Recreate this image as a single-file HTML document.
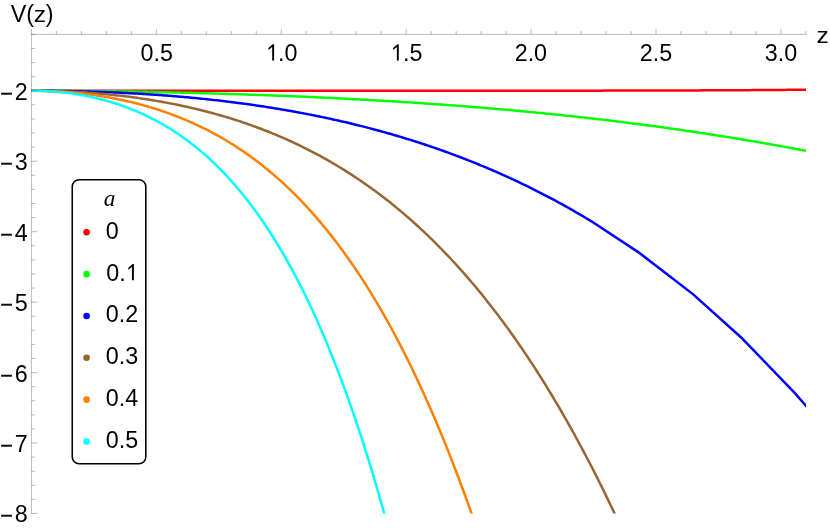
<!DOCTYPE html>
<html><head><meta charset="utf-8"><title>V(z)</title>
<style>
html,body{margin:0;padding:0;background:#fff;}
body{width:830px;height:528px;overflow:hidden;position:relative;font-family:"Liberation Sans",sans-serif;}
</style></head><body>
<svg width="830" height="528" viewBox="0 0 830 528" style="position:absolute;left:0;top:0;will-change:transform">
<rect width="830" height="528" fill="#fff"/>
<clipPath id="pc"><rect x="0" y="0" width="806" height="513.5"/></clipPath>
<g clip-path="url(#pc)">
<path d="M31.40 90.75 L33.35 90.75 L35.31 90.75 L37.26 90.75 L39.21 90.75 L41.17 90.75 L43.12 90.75 L45.08 90.75 L47.03 90.75 L48.98 90.75 L50.94 90.75 L52.89 90.75 L54.84 90.75 L56.80 90.75 L58.75 90.75 L60.70 90.75 L62.66 90.75 L64.61 90.75 L66.57 90.75 L68.52 90.75 L70.47 90.75 L72.43 90.75 L74.38 90.75 L76.33 90.75 L78.29 90.75 L80.24 90.75 L82.19 90.75 L84.15 90.75 L86.10 90.75 L88.06 90.75 L90.01 90.75 L91.96 90.75 L93.92 90.75 L95.87 90.75 L97.82 90.75 L99.78 90.75 L101.73 90.75 L103.68 90.75 L105.64 90.75 L107.59 90.75 L109.55 90.75 L111.50 90.75 L113.45 90.75 L115.41 90.75 L117.36 90.75 L119.31 90.75 L121.27 90.75 L123.22 90.75 L125.17 90.75 L127.13 90.75 L129.08 90.75 L131.04 90.75 L132.99 90.75 L134.94 90.75 L136.90 90.75 L138.85 90.75 L140.80 90.75 L142.76 90.75 L144.71 90.75 L146.66 90.75 L148.62 90.75 L150.57 90.75 L152.53 90.75 L154.48 90.75 L156.43 90.75 L158.39 90.75 L160.34 90.75 L162.29 90.75 L164.25 90.75 L166.20 90.75 L168.15 90.75 L170.11 90.75 L172.06 90.75 L174.02 90.75 L175.97 90.75 L177.92 90.75 L179.88 90.75 L181.83 90.75 L183.78 90.75 L185.74 90.75 L187.69 90.75 L189.64 90.75 L191.60 90.75 L193.55 90.75 L195.51 90.75 L197.46 90.75 L199.41 90.75 L201.37 90.75 L203.32 90.75 L205.27 90.75 L207.23 90.75 L209.18 90.75 L211.13 90.75 L213.09 90.75 L215.04 90.75 L217.00 90.75 L218.95 90.75 L220.90 90.75 L222.86 90.75 L224.81 90.75 L226.76 90.75 L228.72 90.75 L230.67 90.75 L232.62 90.75 L234.58 90.75 L236.53 90.75 L238.49 90.75 L240.44 90.75 L242.39 90.75 L244.35 90.75 L246.30 90.75 L248.25 90.75 L250.21 90.75 L252.16 90.75 L254.11 90.75 L256.07 90.75 L258.02 90.75 L259.98 90.75 L261.93 90.75 L263.88 90.75 L265.84 90.75 L267.79 90.75 L269.74 90.75 L271.70 90.75 L273.65 90.75 L275.60 90.75 L277.56 90.75 L279.51 90.75 L281.47 90.75 L283.42 90.75 L285.37 90.75 L287.33 90.75 L289.28 90.75 L291.23 90.75 L293.19 90.75 L295.14 90.75 L297.09 90.75 L299.05 90.75 L301.00 90.75 L302.96 90.75 L304.91 90.75 L306.86 90.75 L308.82 90.75 L310.77 90.75 L312.72 90.75 L314.68 90.75 L316.63 90.75 L318.58 90.75 L320.54 90.75 L322.49 90.75 L324.45 90.75 L326.40 90.75 L328.35 90.75 L330.31 90.75 L332.26 90.75 L334.21 90.75 L336.17 90.75 L338.12 90.75 L340.07 90.75 L342.03 90.75 L343.98 90.75 L345.94 90.75 L347.89 90.75 L349.84 90.75 L351.80 90.75 L353.75 90.75 L355.70 90.75 L357.66 90.75 L359.61 90.75 L361.56 90.75 L363.52 90.75 L365.47 90.75 L367.43 90.75 L369.38 90.75 L371.33 90.75 L373.29 90.75 L375.24 90.75 L377.19 90.75 L379.15 90.75 L381.10 90.75 L383.05 90.75 L385.01 90.75 L386.96 90.75 L388.92 90.75 L390.87 90.75 L392.82 90.74 L394.78 90.74 L396.73 90.74 L398.68 90.74 L400.64 90.74 L402.59 90.74 L404.54 90.74 L406.50 90.74 L408.45 90.74 L410.41 90.74 L412.36 90.74 L414.31 90.74 L416.27 90.74 L418.22 90.74 L420.17 90.74 L422.13 90.74 L424.08 90.74 L426.03 90.74 L427.99 90.74 L429.94 90.74 L431.90 90.74 L433.85 90.74 L435.80 90.74 L437.76 90.74 L439.71 90.74 L441.66 90.74 L443.62 90.74 L445.57 90.74 L447.52 90.74 L449.48 90.74 L451.43 90.74 L453.39 90.74 L455.34 90.73 L457.29 90.73 L459.25 90.73 L461.20 90.73 L463.15 90.73 L465.11 90.73 L467.06 90.73 L469.01 90.73 L470.97 90.73 L472.92 90.73 L474.88 90.73 L476.83 90.73 L478.78 90.73 L480.74 90.73 L482.69 90.73 L484.64 90.73 L486.60 90.72 L488.55 90.72 L490.50 90.72 L492.46 90.72 L494.41 90.72 L496.37 90.72 L498.32 90.72 L500.27 90.72 L502.23 90.72 L504.18 90.72 L506.13 90.72 L508.09 90.71 L510.04 90.71 L511.99 90.71 L513.95 90.71 L515.90 90.71 L517.86 90.71 L519.81 90.71 L521.76 90.71 L523.72 90.71 L525.67 90.70 L527.62 90.70 L529.58 90.70 L531.53 90.70 L533.48 90.70 L535.44 90.70 L537.39 90.70 L539.35 90.70 L541.30 90.69 L543.25 90.69 L545.21 90.69 L547.16 90.69 L549.11 90.69 L551.07 90.69 L553.02 90.68 L554.97 90.68 L556.93 90.68 L558.88 90.68 L560.84 90.68 L562.79 90.67 L564.74 90.67 L566.70 90.67 L568.65 90.67 L570.60 90.67 L572.56 90.66 L574.51 90.66 L576.46 90.66 L578.42 90.66 L580.37 90.66 L582.33 90.65 L584.28 90.65 L586.23 90.65 L588.19 90.65 L590.14 90.64 L592.09 90.64 L594.05 90.64 L596.00 90.64 L597.95 90.63 L599.91 90.63 L601.86 90.63 L603.82 90.62 L605.77 90.62 L607.72 90.62 L609.68 90.61 L611.63 90.61 L613.58 90.61 L615.54 90.60 L617.49 90.60 L619.44 90.60 L621.40 90.59 L623.35 90.59 L625.31 90.59 L627.26 90.58 L629.21 90.58 L631.17 90.57 L633.12 90.57 L635.07 90.57 L637.03 90.56 L638.98 90.56 L640.93 90.55 L642.89 90.55 L644.84 90.54 L646.80 90.54 L648.75 90.54 L650.70 90.53 L652.66 90.53 L654.61 90.52 L656.56 90.52 L658.52 90.51 L660.47 90.51 L662.42 90.50 L664.38 90.49 L666.33 90.49 L668.29 90.48 L670.24 90.48 L672.19 90.47 L674.15 90.47 L676.10 90.46 L678.05 90.45 L680.01 90.45 L681.96 90.44 L683.91 90.43 L685.87 90.43 L687.82 90.42 L689.78 90.41 L691.73 90.41 L693.68 90.40 L695.64 90.39 L697.59 90.38 L699.54 90.38 L701.50 90.37 L703.45 90.36 L705.40 90.35 L707.36 90.34 L709.31 90.34 L711.27 90.33 L713.22 90.32 L715.17 90.31 L717.13 90.30 L719.08 90.29 L721.03 90.28 L722.99 90.27 L724.94 90.27 L726.89 90.26 L728.85 90.25 L730.80 90.24 L732.76 90.23 L734.71 90.22 L736.66 90.20 L738.62 90.19 L740.57 90.18 L742.52 90.17 L744.48 90.16 L746.43 90.15 L748.38 90.14 L750.34 90.13 L752.29 90.11 L754.25 90.10 L756.20 90.09 L758.15 90.08 L760.11 90.06 L762.06 90.05 L764.01 90.04 L765.97 90.03 L767.92 90.01 L769.87 90.00 L771.83 89.98 L773.78 89.97 L775.74 89.95 L777.69 89.94 L779.64 89.93 L781.60 89.91 L783.55 89.89 L785.50 89.88 L787.46 89.86 L789.41 89.85 L791.36 89.83 L793.32 89.81 L795.27 89.80 L797.23 89.78 L799.18 89.76 L801.13 89.74 L803.09 89.73 L805.04 89.71 L806.99 89.69 L808.95 89.67 L810.90 89.65" fill="none" stroke="#ff0000" stroke-width="2.5" stroke-linejoin="round"/>
<path d="M31.40 90.75 L33.35 90.75 L35.31 90.75 L37.26 90.75 L39.21 90.76 L41.17 90.76 L43.12 90.76 L45.08 90.77 L47.03 90.77 L48.98 90.78 L50.94 90.78 L52.89 90.79 L54.84 90.80 L56.80 90.81 L58.75 90.82 L60.70 90.83 L62.66 90.84 L64.61 90.85 L66.57 90.86 L68.52 90.87 L70.47 90.89 L72.43 90.90 L74.38 90.92 L76.33 90.93 L78.29 90.95 L80.24 90.96 L82.19 90.98 L84.15 91.00 L86.10 91.01 L88.06 91.03 L90.01 91.05 L91.96 91.07 L93.92 91.09 L95.87 91.11 L97.82 91.14 L99.78 91.16 L101.73 91.18 L103.68 91.21 L105.64 91.23 L107.59 91.25 L109.55 91.28 L111.50 91.31 L113.45 91.33 L115.41 91.36 L117.36 91.39 L119.31 91.42 L121.27 91.45 L123.22 91.47 L125.17 91.51 L127.13 91.54 L129.08 91.57 L131.04 91.60 L132.99 91.63 L134.94 91.66 L136.90 91.70 L138.85 91.73 L140.80 91.77 L142.76 91.80 L144.71 91.84 L146.66 91.87 L148.62 91.91 L150.57 91.95 L152.53 91.99 L154.48 92.03 L156.43 92.07 L158.39 92.11 L160.34 92.15 L162.29 92.19 L164.25 92.23 L166.20 92.27 L168.15 92.31 L170.11 92.36 L172.06 92.40 L174.02 92.45 L175.97 92.49 L177.92 92.54 L179.88 92.58 L181.83 92.63 L183.78 92.68 L185.74 92.72 L187.69 92.77 L189.64 92.82 L191.60 92.87 L193.55 92.92 L195.51 92.97 L197.46 93.02 L199.41 93.08 L201.37 93.13 L203.32 93.18 L205.27 93.23 L207.23 93.29 L209.18 93.34 L211.13 93.40 L213.09 93.46 L215.04 93.51 L217.00 93.57 L218.95 93.63 L220.90 93.68 L222.86 93.74 L224.81 93.80 L226.76 93.86 L228.72 93.92 L230.67 93.99 L232.62 94.05 L234.58 94.11 L236.53 94.17 L238.49 94.24 L240.44 94.30 L242.39 94.37 L244.35 94.43 L246.30 94.50 L248.25 94.56 L250.21 94.63 L252.16 94.70 L254.11 94.77 L256.07 94.84 L258.02 94.91 L259.98 94.98 L261.93 95.05 L263.88 95.12 L265.84 95.19 L267.79 95.26 L269.74 95.34 L271.70 95.41 L273.65 95.49 L275.60 95.56 L277.56 95.64 L279.51 95.71 L281.47 95.79 L283.42 95.87 L285.37 95.95 L287.33 96.03 L289.28 96.11 L291.23 96.19 L293.19 96.27 L295.14 96.35 L297.09 96.43 L299.05 96.52 L301.00 96.60 L302.96 96.68 L304.91 96.77 L306.86 96.86 L308.82 96.94 L310.77 97.03 L312.72 97.12 L314.68 97.21 L316.63 97.30 L318.58 97.39 L320.54 97.48 L322.49 97.57 L324.45 97.66 L326.40 97.75 L328.35 97.85 L330.31 97.94 L332.26 98.03 L334.21 98.13 L336.17 98.23 L338.12 98.32 L340.07 98.42 L342.03 98.52 L343.98 98.62 L345.94 98.72 L347.89 98.82 L349.84 98.92 L351.80 99.02 L353.75 99.13 L355.70 99.23 L357.66 99.34 L359.61 99.44 L361.56 99.55 L363.52 99.65 L365.47 99.76 L367.43 99.87 L369.38 99.98 L371.33 100.09 L373.29 100.20 L375.24 100.31 L377.19 100.42 L379.15 100.54 L381.10 100.65 L383.05 100.76 L385.01 100.88 L386.96 101.00 L388.92 101.11 L390.87 101.23 L392.82 101.35 L394.78 101.47 L396.73 101.59 L398.68 101.71 L400.64 101.83 L402.59 101.96 L404.54 102.08 L406.50 102.20 L408.45 102.33 L410.41 102.46 L412.36 102.58 L414.31 102.71 L416.27 102.84 L418.22 102.97 L420.17 103.10 L422.13 103.23 L424.08 103.36 L426.03 103.50 L427.99 103.63 L429.94 103.77 L431.90 103.90 L433.85 104.04 L435.80 104.18 L437.76 104.32 L439.71 104.46 L441.66 104.60 L443.62 104.74 L445.57 104.88 L447.52 105.02 L449.48 105.17 L451.43 105.31 L453.39 105.46 L455.34 105.61 L457.29 105.75 L459.25 105.90 L461.20 106.05 L463.15 106.20 L465.11 106.35 L467.06 106.51 L469.01 106.66 L470.97 106.82 L472.92 106.97 L474.88 107.13 L476.83 107.29 L478.78 107.44 L480.74 107.60 L482.69 107.77 L484.64 107.93 L486.60 108.09 L488.55 108.25 L490.50 108.42 L492.46 108.58 L494.41 108.75 L496.37 108.92 L498.32 109.09 L500.27 109.26 L502.23 109.43 L504.18 109.60 L506.13 109.77 L508.09 109.95 L510.04 110.12 L511.99 110.30 L513.95 110.47 L515.90 110.65 L517.86 110.83 L519.81 111.01 L521.76 111.19 L523.72 111.38 L525.67 111.56 L527.62 111.75 L529.58 111.93 L531.53 112.12 L533.48 112.31 L535.44 112.50 L537.39 112.69 L539.35 112.88 L541.30 113.07 L543.25 113.26 L545.21 113.46 L547.16 113.65 L549.11 113.85 L551.07 114.05 L553.02 114.25 L554.97 114.45 L556.93 114.65 L558.88 114.85 L560.84 115.06 L562.79 115.26 L564.74 115.47 L566.70 115.67 L568.65 115.88 L570.60 116.09 L572.56 116.30 L574.51 116.52 L576.46 116.73 L578.42 116.94 L580.37 117.16 L582.33 117.38 L584.28 117.59 L586.23 117.81 L588.19 118.03 L590.14 118.25 L592.09 118.48 L594.05 118.70 L596.00 118.93 L597.95 119.15 L599.91 119.38 L601.86 119.61 L603.82 119.84 L605.77 120.07 L607.72 120.30 L609.68 120.54 L611.63 120.77 L613.58 121.01 L615.54 121.25 L617.49 121.49 L619.44 121.73 L621.40 121.97 L623.35 122.21 L625.31 122.45 L627.26 122.70 L629.21 122.95 L631.17 123.19 L633.12 123.44 L635.07 123.69 L637.03 123.94 L638.98 124.20 L640.93 124.45 L642.89 124.71 L644.84 124.96 L646.80 125.22 L648.75 125.48 L650.70 125.74 L652.66 126.00 L654.61 126.27 L656.56 126.53 L658.52 126.80 L660.47 127.06 L662.42 127.33 L664.38 127.60 L666.33 127.87 L668.29 128.15 L670.24 128.42 L672.19 128.69 L674.15 128.97 L676.10 129.25 L678.05 129.53 L680.01 129.81 L681.96 130.09 L683.91 130.37 L685.87 130.66 L687.82 130.94 L689.78 131.23 L691.73 131.52 L693.68 131.81 L695.64 132.10 L697.59 132.39 L699.54 132.69 L701.50 132.98 L703.45 133.28 L705.40 133.58 L707.36 133.88 L709.31 134.18 L711.27 134.48 L713.22 134.78 L715.17 135.09 L717.13 135.39 L719.08 135.70 L721.03 136.01 L722.99 136.32 L724.94 136.63 L726.89 136.95 L728.85 137.26 L730.80 137.58 L732.76 137.89 L734.71 138.21 L736.66 138.53 L738.62 138.85 L740.57 139.18 L742.52 139.50 L744.48 139.83 L746.43 140.15 L748.38 140.48 L750.34 140.81 L752.29 141.14 L754.25 141.48 L756.20 141.81 L758.15 142.14 L760.11 142.48 L762.06 142.82 L764.01 143.16 L765.97 143.50 L767.92 143.84 L769.87 144.19 L771.83 144.53 L773.78 144.88 L775.74 145.23 L777.69 145.57 L779.64 145.93 L781.60 146.28 L783.55 146.63 L785.50 146.99 L787.46 147.34 L789.41 147.70 L791.36 148.06 L793.32 148.42 L795.27 148.78 L797.23 149.15 L799.18 149.51 L801.13 149.88 L803.09 150.24 L805.04 150.61 L806.99 150.98 L808.95 151.35 L810.90 151.73" fill="none" stroke="#00ff00" stroke-width="2.5" stroke-linejoin="round"/>
<path d="M31.40 90.75 L33.35 90.75 L35.31 90.75 L37.26 90.76 L39.21 90.76 L41.17 90.77 L43.12 90.78 L45.08 90.79 L47.03 90.81 L48.98 90.82 L50.94 90.84 L52.89 90.86 L54.84 90.88 L56.80 90.90 L58.75 90.93 L60.70 90.95 L62.66 90.98 L64.61 91.01 L66.57 91.05 L68.52 91.08 L70.47 91.12 L72.43 91.15 L74.38 91.20 L76.33 91.24 L78.29 91.28 L80.24 91.33 L82.19 91.38 L84.15 91.43 L86.10 91.48 L88.06 91.53 L90.01 91.59 L91.96 91.65 L93.92 91.71 L95.87 91.77 L97.82 91.84 L99.78 91.91 L101.73 91.98 L103.68 92.05 L105.64 92.12 L107.59 92.20 L109.55 92.27 L111.50 92.35 L113.45 92.44 L115.41 92.52 L117.36 92.61 L119.31 92.70 L121.27 92.79 L123.22 92.88 L125.17 92.98 L127.13 93.08 L129.08 93.18 L131.04 93.28 L132.99 93.39 L134.94 93.50 L136.90 93.61 L138.85 93.72 L140.80 93.83 L142.76 93.95 L144.71 94.07 L146.66 94.19 L148.62 94.32 L150.57 94.45 L152.53 94.58 L154.48 94.71 L156.43 94.84 L158.39 94.98 L160.34 95.12 L162.29 95.26 L164.25 95.41 L166.20 95.55 L168.15 95.71 L170.11 95.86 L172.06 96.01 L174.02 96.17 L175.97 96.33 L177.92 96.50 L179.88 96.66 L181.83 96.83 L183.78 97.00 L185.74 97.18 L187.69 97.35 L189.64 97.53 L191.60 97.72 L193.55 97.90 L195.51 98.09 L197.46 98.28 L199.41 98.47 L201.37 98.67 L203.32 98.87 L205.27 99.07 L207.23 99.28 L209.18 99.49 L211.13 99.70 L213.09 99.91 L215.04 100.13 L217.00 100.35 L218.95 100.57 L220.90 100.80 L222.86 101.03 L224.81 101.26 L226.76 101.50 L228.72 101.73 L230.67 101.97 L232.62 102.22 L234.58 102.47 L236.53 102.72 L238.49 102.97 L240.44 103.23 L242.39 103.49 L244.35 103.75 L246.30 104.02 L248.25 104.29 L250.21 104.56 L252.16 104.84 L254.11 105.12 L256.07 105.40 L258.02 105.69 L259.98 105.98 L261.93 106.27 L263.88 106.57 L265.84 106.87 L267.79 107.17 L269.74 107.48 L271.70 107.79 L273.65 108.11 L275.60 108.42 L277.56 108.74 L279.51 109.07 L281.47 109.40 L283.42 109.73 L285.37 110.06 L287.33 110.40 L289.28 110.74 L291.23 111.09 L293.19 111.44 L295.14 111.79 L297.09 112.15 L299.05 112.51 L301.00 112.88 L302.96 113.25 L304.91 113.62 L306.86 113.99 L308.82 114.37 L310.77 114.76 L312.72 115.14 L314.68 115.54 L316.63 115.93 L318.58 116.33 L320.54 116.73 L322.49 117.14 L324.45 117.55 L326.40 117.97 L328.35 118.39 L330.31 118.81 L332.26 119.24 L334.21 119.67 L336.17 120.10 L338.12 120.54 L340.07 120.99 L342.03 121.44 L343.98 121.89 L345.94 122.34 L347.89 122.80 L349.84 123.27 L351.80 123.74 L353.75 124.21 L355.70 124.69 L357.66 125.17 L359.61 125.66 L361.56 126.15 L363.52 126.64 L365.47 127.14 L367.43 127.65 L369.38 128.16 L371.33 128.67 L373.29 129.19 L375.24 129.71 L377.19 130.24 L379.15 130.77 L381.10 131.30 L383.05 131.84 L385.01 132.39 L386.96 132.94 L388.92 133.49 L390.87 134.05 L392.82 134.62 L394.78 135.18 L396.73 135.76 L398.68 136.34 L400.64 136.92 L402.59 137.51 L404.54 138.10 L406.50 138.70 L408.45 139.30 L410.41 139.91 L412.36 140.52 L414.31 141.14 L416.27 141.76 L418.22 142.39 L420.17 143.02 L422.13 143.66 L424.08 144.31 L426.03 144.95 L427.99 145.61 L429.94 146.27 L431.90 146.93 L433.85 147.60 L435.80 148.27 L437.76 148.95 L439.71 149.64 L441.66 150.33 L443.62 151.02 L445.57 151.73 L447.52 152.43 L449.48 153.14 L451.43 153.86 L453.39 154.59 L455.34 155.31 L457.29 156.05 L459.25 156.79 L461.20 157.53 L463.15 158.29 L465.11 159.04 L467.06 159.80 L469.01 160.57 L470.97 161.35 L472.92 162.13 L474.88 162.91 L476.83 163.70 L478.78 164.50 L480.74 165.30 L482.69 166.11 L484.64 166.93 L486.60 167.75 L488.55 168.58 L490.50 169.41 L492.46 170.25 L494.41 171.09 L496.37 171.94 L498.32 172.80 L500.27 173.66 L502.23 174.53 L504.18 175.41 L506.13 176.29 L508.09 177.18 L510.04 178.08 L511.99 178.98 L513.95 179.88 L515.90 180.80 L517.86 181.72 L519.81 182.64 L521.76 183.58 L523.72 184.52 L525.67 185.46 L527.62 186.42 L529.58 187.38 L531.53 188.34 L533.48 189.31 L535.44 190.29 L537.39 191.28 L539.35 192.27 L541.30 193.27 L543.25 194.28 L545.21 195.29 L547.16 196.31 L549.11 197.34 L551.07 198.37 L553.02 199.41 L554.97 200.46 L556.93 201.52 L558.88 202.58 L560.84 203.65 L562.79 204.72 L564.74 205.81 L566.70 206.90 L568.65 208.00 L570.60 209.10 L572.56 210.21 L574.51 211.33 L576.46 212.46 L578.42 213.59 L580.37 214.74 L582.33 215.88 L584.28 217.04 L586.23 218.20 L588.19 219.38 L590.14 220.56 L591.40 221.32 L639.75 253.14 L692.90 294.13 L742.30 338.51 L794.90 393.16 L810.90 411.42" fill="none" stroke="#0000ff" stroke-width="2.5" stroke-linejoin="round"/>
<path d="M31.40 90.75 L33.35 90.75 L35.31 90.76 L37.26 90.77 L39.21 90.79 L41.17 90.81 L43.12 90.83 L45.08 90.87 L47.03 90.90 L48.98 90.94 L50.94 90.98 L52.89 91.03 L54.84 91.09 L56.80 91.15 L58.75 91.21 L60.70 91.28 L62.66 91.35 L64.61 91.43 L66.57 91.51 L68.52 91.60 L70.47 91.69 L72.43 91.79 L74.38 91.89 L76.33 92.00 L78.29 92.11 L80.24 92.23 L82.19 92.35 L84.15 92.48 L86.10 92.61 L88.06 92.75 L90.01 92.89 L91.96 93.03 L93.92 93.19 L95.87 93.34 L97.82 93.50 L99.78 93.67 L101.73 93.84 L103.68 94.02 L105.64 94.20 L107.59 94.39 L109.55 94.58 L111.50 94.78 L113.45 94.99 L115.41 95.20 L117.36 95.41 L119.31 95.63 L121.27 95.86 L123.22 96.09 L125.17 96.32 L127.13 96.56 L129.08 96.81 L131.04 97.06 L132.99 97.32 L134.94 97.59 L136.90 97.86 L138.85 98.13 L140.80 98.41 L142.76 98.70 L144.71 98.99 L146.66 99.29 L148.62 99.60 L150.57 99.91 L152.53 100.23 L154.48 100.55 L156.43 100.88 L158.39 101.22 L160.34 101.56 L162.29 101.90 L164.25 102.26 L166.20 102.62 L168.15 102.99 L170.11 103.36 L172.06 103.74 L174.02 104.13 L175.97 104.52 L177.92 104.92 L179.88 105.33 L181.83 105.74 L183.78 106.16 L185.74 106.59 L187.69 107.02 L189.64 107.46 L191.60 107.91 L193.55 108.36 L195.51 108.82 L197.46 109.29 L199.41 109.77 L201.37 110.25 L203.32 110.74 L205.27 111.24 L207.23 111.75 L209.18 112.26 L211.13 112.78 L213.09 113.31 L215.04 113.85 L217.00 114.39 L218.95 114.94 L220.90 115.50 L222.86 116.07 L224.81 116.65 L226.76 117.23 L228.72 117.82 L230.67 118.42 L232.62 119.03 L234.58 119.65 L236.53 120.28 L238.49 120.91 L240.44 121.55 L242.39 122.20 L244.35 122.86 L246.30 123.53 L248.25 124.21 L250.21 124.90 L252.16 125.59 L254.11 126.30 L256.07 127.01 L258.02 127.73 L259.98 128.47 L261.93 129.21 L263.88 129.96 L265.84 130.72 L267.79 131.49 L269.74 132.27 L271.70 133.06 L273.65 133.86 L275.60 134.67 L277.56 135.49 L279.51 136.32 L281.47 137.16 L283.42 138.01 L285.37 138.87 L287.33 139.74 L289.28 140.62 L291.23 141.51 L293.19 142.41 L295.14 143.32 L297.09 144.25 L299.05 145.18 L301.00 146.13 L302.96 147.09 L304.91 148.05 L306.86 149.03 L308.82 150.02 L310.77 151.03 L312.72 152.04 L314.68 153.06 L316.63 154.10 L318.58 155.15 L320.54 156.21 L322.49 157.28 L324.45 158.37 L326.40 159.46 L328.35 160.57 L330.31 161.69 L332.26 162.83 L334.21 163.97 L336.17 165.13 L338.12 166.30 L340.07 167.49 L342.03 168.69 L343.98 169.90 L345.94 171.12 L347.89 172.36 L349.84 173.61 L351.80 174.87 L353.75 176.15 L355.70 177.44 L357.66 178.74 L359.61 180.06 L361.56 181.39 L363.52 182.74 L365.47 184.10 L367.43 185.47 L369.38 186.86 L371.33 188.26 L373.29 189.68 L375.24 191.11 L377.19 192.56 L379.15 194.02 L381.10 195.49 L383.05 196.98 L385.01 198.49 L386.96 200.01 L388.92 201.55 L390.87 203.10 L392.82 204.67 L394.78 206.25 L396.73 207.85 L398.68 209.47 L400.64 211.10 L402.59 212.75 L404.54 214.41 L406.50 216.09 L408.45 217.79 L410.41 219.50 L412.36 221.23 L414.31 222.98 L416.27 224.74 L418.22 226.52 L420.17 228.32 L422.13 230.13 L424.08 231.96 L426.03 233.81 L427.99 235.68 L429.94 237.56 L431.90 239.47 L433.85 241.39 L435.80 243.33 L437.76 245.28 L439.71 247.26 L441.66 249.25 L443.62 251.26 L445.57 253.29 L447.52 255.34 L449.48 257.41 L451.43 259.50 L453.39 261.60 L455.34 263.73 L457.29 265.87 L459.25 268.04 L461.20 270.22 L463.15 272.42 L465.11 274.65 L467.06 276.89 L469.01 279.15 L470.97 281.44 L472.92 283.74 L474.88 286.06 L476.83 288.41 L478.78 290.77 L480.74 293.16 L482.69 295.57 L484.64 298.00 L486.60 300.45 L488.55 302.92 L490.50 305.41 L492.46 307.92 L494.41 310.46 L496.37 313.02 L498.32 315.59 L500.27 318.20 L502.23 320.82 L504.18 323.46 L506.13 326.13 L508.09 328.82 L510.04 331.54 L511.99 334.27 L513.95 337.03 L515.90 339.82 L517.86 342.62 L519.81 345.45 L521.76 348.30 L523.72 351.18 L525.67 354.08 L527.62 357.01 L529.58 359.95 L531.53 362.93 L533.48 365.92 L535.44 368.94 L537.39 371.99 L539.35 375.06 L541.30 378.15 L543.25 381.27 L545.21 384.42 L547.16 387.59 L549.11 390.79 L551.07 394.01 L553.02 397.26 L554.97 400.53 L556.93 403.83 L558.88 407.15 L560.84 410.50 L562.79 413.88 L564.74 417.28 L566.70 420.72 L568.65 424.17 L570.60 427.66 L572.56 431.17 L574.51 434.71 L576.46 438.27 L578.42 441.87 L580.37 445.49 L582.33 449.14 L584.28 452.81 L586.23 456.52 L588.19 460.25 L590.14 464.01 L592.09 467.80 L594.05 471.62 L596.00 475.46 L597.95 479.34 L599.91 483.25 L601.86 487.18 L603.82 491.14 L605.77 495.13 L607.72 499.16 L609.68 503.21 L611.63 507.29 L613.58 511.40 L615.54 515.54 L617.22 519.15" fill="none" stroke="#996633" stroke-width="2.5" stroke-linejoin="round"/>
<path d="M31.40 90.75 L33.35 90.75 L35.31 90.77 L37.26 90.79 L39.21 90.82 L41.17 90.85 L43.12 90.90 L45.08 90.95 L47.03 91.02 L48.98 91.09 L50.94 91.17 L52.89 91.25 L54.84 91.35 L56.80 91.45 L58.75 91.57 L60.70 91.69 L62.66 91.82 L64.61 91.96 L66.57 92.10 L68.52 92.26 L70.47 92.42 L72.43 92.60 L74.38 92.78 L76.33 92.97 L78.29 93.17 L80.24 93.38 L82.19 93.59 L84.15 93.82 L86.10 94.06 L88.06 94.30 L90.01 94.55 L91.96 94.82 L93.92 95.09 L95.87 95.37 L97.82 95.66 L99.78 95.96 L101.73 96.27 L103.68 96.59 L105.64 96.92 L107.59 97.25 L109.55 97.60 L111.50 97.96 L113.45 98.33 L115.41 98.71 L117.36 99.10 L119.31 99.50 L121.27 99.91 L123.22 100.32 L125.17 100.76 L127.13 101.20 L129.08 101.65 L131.04 102.11 L132.99 102.58 L134.94 103.07 L136.90 103.57 L138.85 104.07 L140.80 104.59 L142.76 105.12 L144.71 105.66 L146.66 106.22 L148.62 106.78 L150.57 107.36 L152.53 107.95 L154.48 108.55 L156.43 109.17 L158.39 109.79 L160.34 110.43 L162.29 111.09 L164.25 111.75 L166.20 112.43 L168.15 113.12 L170.11 113.83 L172.06 114.55 L174.02 115.28 L175.97 116.03 L177.92 116.79 L179.88 117.56 L181.83 118.35 L183.78 119.15 L185.74 119.97 L187.69 120.80 L189.64 121.65 L191.60 122.51 L193.55 123.39 L195.51 124.28 L197.46 125.19 L199.41 126.11 L201.37 127.05 L203.32 128.01 L205.27 128.98 L207.23 129.97 L209.18 130.98 L211.13 132.00 L213.09 133.04 L215.04 134.09 L217.00 135.17 L218.95 136.26 L220.90 137.37 L222.86 138.50 L224.81 139.64 L226.76 140.80 L228.72 141.99 L230.67 143.19 L232.62 144.41 L234.58 145.65 L236.53 146.90 L238.49 148.18 L240.44 149.48 L242.39 150.80 L244.35 152.13 L246.30 153.49 L248.25 154.87 L250.21 156.27 L252.16 157.69 L254.11 159.13 L256.07 160.59 L258.02 162.08 L259.98 163.58 L261.93 165.11 L263.88 166.66 L265.84 168.23 L267.79 169.83 L269.74 171.45 L271.70 173.09 L273.65 174.76 L275.60 176.45 L277.56 178.16 L279.51 179.90 L281.47 181.66 L283.42 183.45 L285.37 185.26 L287.33 187.10 L289.28 188.96 L291.23 190.85 L293.19 192.76 L295.14 194.70 L297.09 196.67 L299.05 198.66 L301.00 200.68 L302.96 202.73 L304.91 204.80 L306.86 206.91 L308.82 209.04 L310.77 211.20 L312.72 213.38 L314.68 215.60 L316.63 217.84 L318.58 220.12 L320.54 222.42 L322.49 224.75 L324.45 227.12 L326.40 229.51 L328.35 231.94 L330.31 234.39 L332.26 236.88 L334.21 239.40 L336.17 241.95 L338.12 244.53 L340.07 247.14 L342.03 249.79 L343.98 252.47 L345.94 255.18 L347.89 257.93 L349.84 260.71 L351.80 263.53 L353.75 266.37 L355.70 269.26 L357.66 272.18 L359.61 275.13 L361.56 278.12 L363.52 281.14 L365.47 284.20 L367.43 287.30 L369.38 290.43 L371.33 293.60 L373.29 296.81 L375.24 300.06 L377.19 303.34 L379.15 306.66 L381.10 310.02 L383.05 313.42 L385.01 316.86 L386.96 320.34 L388.92 323.86 L390.87 327.42 L392.82 331.01 L394.78 334.65 L396.73 338.33 L398.68 342.05 L400.64 345.82 L402.59 349.62 L404.54 353.47 L406.50 357.36 L408.45 361.29 L410.41 365.27 L412.36 369.29 L414.31 373.35 L416.27 377.46 L418.22 381.61 L420.17 385.81 L422.13 390.05 L424.08 394.34 L426.03 398.68 L427.99 403.06 L429.94 407.48 L431.90 411.96 L433.85 416.48 L435.80 421.05 L437.76 425.67 L439.71 430.33 L441.66 435.05 L443.62 439.81 L445.57 444.62 L447.52 449.48 L449.48 454.39 L451.43 459.36 L453.39 464.37 L455.34 469.43 L457.29 474.55 L459.25 479.72 L461.20 484.94 L463.15 490.21 L465.11 495.53 L467.06 500.91 L469.01 506.34 L470.97 511.82 L472.92 517.36 L473.54 519.15" fill="none" stroke="#ff8000" stroke-width="2.5" stroke-linejoin="round"/>
<path d="M31.40 90.75 L33.35 90.76 L35.31 90.78 L37.26 90.81 L39.21 90.85 L41.17 90.91 L43.12 90.98 L45.08 91.06 L47.03 91.16 L48.98 91.27 L50.94 91.39 L52.89 91.52 L54.84 91.67 L56.80 91.84 L58.75 92.01 L60.70 92.20 L62.66 92.40 L64.61 92.62 L66.57 92.85 L68.52 93.09 L70.47 93.35 L72.43 93.62 L74.38 93.91 L76.33 94.21 L78.29 94.52 L80.24 94.85 L82.19 95.20 L84.15 95.56 L86.10 95.93 L88.06 96.32 L90.01 96.72 L91.96 97.14 L93.92 97.58 L95.87 98.03 L97.82 98.50 L99.78 98.98 L101.73 99.48 L103.68 100.00 L105.64 100.53 L107.59 101.08 L109.55 101.64 L111.50 102.23 L113.45 102.83 L115.41 103.44 L117.36 104.08 L119.31 104.73 L121.27 105.40 L123.22 106.09 L125.17 106.80 L127.13 107.53 L129.08 108.27 L131.04 109.04 L132.99 109.82 L134.94 110.63 L136.90 111.45 L138.85 112.30 L140.80 113.16 L142.76 114.05 L144.71 114.95 L146.66 115.88 L148.62 116.83 L150.57 117.80 L152.53 118.79 L154.48 119.81 L156.43 120.85 L158.39 121.91 L160.34 122.99 L162.29 124.10 L164.25 125.23 L166.20 126.38 L168.15 127.56 L170.11 128.76 L172.06 129.99 L174.02 131.25 L175.97 132.53 L177.92 133.83 L179.88 135.16 L181.83 136.52 L183.78 137.91 L185.74 139.32 L187.69 140.76 L189.64 142.23 L191.60 143.73 L193.55 145.26 L195.51 146.81 L197.46 148.40 L199.41 150.01 L201.37 151.66 L203.32 153.34 L205.27 155.04 L207.23 156.78 L209.18 158.55 L211.13 160.36 L213.09 162.19 L215.04 164.06 L217.00 165.97 L218.95 167.91 L220.90 169.88 L222.86 171.89 L224.81 173.93 L226.76 176.01 L228.72 178.12 L230.67 180.28 L232.62 182.47 L234.58 184.69 L236.53 186.96 L238.49 189.26 L240.44 191.61 L242.39 193.99 L244.35 196.42 L246.30 198.88 L248.25 201.39 L250.21 203.94 L252.16 206.53 L254.11 209.16 L256.07 211.84 L258.02 214.56 L259.98 217.32 L261.93 220.13 L263.88 222.99 L265.84 225.89 L267.79 228.84 L269.74 231.84 L271.70 234.88 L273.65 237.97 L275.60 241.12 L277.56 244.31 L279.51 247.55 L281.47 250.84 L283.42 254.19 L285.37 257.58 L287.33 261.03 L289.28 264.54 L291.23 268.09 L293.19 271.70 L295.14 275.37 L297.09 279.09 L299.05 282.87 L301.00 286.71 L302.96 290.60 L304.91 294.56 L306.86 298.57 L308.82 302.64 L310.77 306.78 L312.72 310.97 L314.68 315.23 L316.63 319.55 L318.58 323.93 L320.54 328.38 L322.49 332.89 L324.45 337.47 L326.40 342.11 L328.35 346.82 L330.31 351.60 L332.26 356.45 L334.21 361.36 L336.17 366.35 L338.12 371.41 L340.07 376.54 L342.03 381.74 L343.98 387.02 L345.94 392.37 L347.89 397.79 L349.84 403.30 L351.80 408.87 L353.75 414.53 L355.70 420.26 L357.66 426.07 L359.61 431.97 L361.56 437.94 L363.52 443.99 L365.47 450.13 L367.43 456.35 L369.38 462.65 L371.33 469.04 L373.29 475.52 L375.24 482.08 L377.19 488.73 L379.15 495.47 L381.10 502.30 L383.05 509.22 L385.01 516.23 L385.81 519.15" fill="none" stroke="#00ffff" stroke-width="2.5" stroke-linejoin="round"/>
</g>
<g stroke="#666" stroke-width="0.46" fill="none">
<path d="M31.17 34.38 H806.13"/>
<path d="M31.40 29.00 V513.74"/>
<path d="M56.38 34.38 v-3.30"/>
<path d="M81.37 34.38 v-3.30"/>
<path d="M106.35 34.38 v-3.30"/>
<path d="M131.34 34.38 v-3.30"/>
<path d="M156.32 34.38 v-5.60"/>
<path d="M181.30 34.38 v-3.30"/>
<path d="M206.29 34.38 v-3.30"/>
<path d="M231.27 34.38 v-3.30"/>
<path d="M256.26 34.38 v-3.30"/>
<path d="M281.24 34.38 v-5.60"/>
<path d="M306.22 34.38 v-3.30"/>
<path d="M331.21 34.38 v-3.30"/>
<path d="M356.19 34.38 v-3.30"/>
<path d="M381.18 34.38 v-3.30"/>
<path d="M406.16 34.38 v-5.60"/>
<path d="M431.14 34.38 v-3.30"/>
<path d="M456.13 34.38 v-3.30"/>
<path d="M481.11 34.38 v-3.30"/>
<path d="M506.10 34.38 v-3.30"/>
<path d="M531.08 34.38 v-5.60"/>
<path d="M556.06 34.38 v-3.30"/>
<path d="M581.05 34.38 v-3.30"/>
<path d="M606.03 34.38 v-3.30"/>
<path d="M631.02 34.38 v-3.30"/>
<path d="M656.00 34.38 v-5.60"/>
<path d="M680.98 34.38 v-3.30"/>
<path d="M705.97 34.38 v-3.30"/>
<path d="M730.95 34.38 v-3.30"/>
<path d="M755.94 34.38 v-3.30"/>
<path d="M780.92 34.38 v-5.60"/>
<path d="M805.90 34.38 v-3.30"/>
<path d="M31.40 34.38 h3.70"/>
<path d="M31.40 48.47 h3.70"/>
<path d="M31.40 62.57 h3.70"/>
<path d="M31.40 76.66 h3.70"/>
<path d="M31.40 90.75 h5.90"/>
<path d="M31.40 104.84 h3.70"/>
<path d="M31.40 118.93 h3.70"/>
<path d="M31.40 133.03 h3.70"/>
<path d="M31.40 147.12 h3.70"/>
<path d="M31.40 161.21 h5.90"/>
<path d="M31.40 175.30 h3.70"/>
<path d="M31.40 189.39 h3.70"/>
<path d="M31.40 203.49 h3.70"/>
<path d="M31.40 217.58 h3.70"/>
<path d="M31.40 231.67 h5.90"/>
<path d="M31.40 245.76 h3.70"/>
<path d="M31.40 259.85 h3.70"/>
<path d="M31.40 273.95 h3.70"/>
<path d="M31.40 288.04 h3.70"/>
<path d="M31.40 302.13 h5.90"/>
<path d="M31.40 316.22 h3.70"/>
<path d="M31.40 330.31 h3.70"/>
<path d="M31.40 344.41 h3.70"/>
<path d="M31.40 358.50 h3.70"/>
<path d="M31.40 372.59 h5.90"/>
<path d="M31.40 386.68 h3.70"/>
<path d="M31.40 400.77 h3.70"/>
<path d="M31.40 414.87 h3.70"/>
<path d="M31.40 428.96 h3.70"/>
<path d="M31.40 443.05 h5.90"/>
<path d="M31.40 457.14 h3.70"/>
<path d="M31.40 471.23 h3.70"/>
<path d="M31.40 485.33 h3.70"/>
<path d="M31.40 499.42 h3.70"/>
<path d="M31.40 513.51 h5.90"/>
</g>
<g font-family="Liberation Sans, sans-serif" font-size="23.3px" fill="#000">
<text x="156.82" y="61" text-anchor="middle">0.5</text>
<path d="M274.09 44.20 L272.79 44.20 L268.39 48.10 L268.39 50.00 L272.19 47.10 L272.19 60.40 L274.09 60.40Z" fill="#000"/>
<text x="278.10" y="61">.0</text>
<path d="M398.76 44.20 L397.46 44.20 L393.06 48.10 L393.06 50.00 L396.86 47.10 L396.86 60.40 L398.76 60.40Z" fill="#000"/>
<text x="403.02" y="61">.5</text>
<text x="530.88" y="61" text-anchor="middle">2.0</text>
<text x="656.00" y="61" text-anchor="middle">2.5</text>
<text x="780.92" y="61" text-anchor="middle">3.0</text>
<text x="0.2" y="101" font-size="21.5px" stroke="#000" stroke-width="0.35">−</text><text x="14.85" y="100">2</text>
<text x="0.2" y="171" font-size="21.5px" stroke="#000" stroke-width="0.35">−</text><text x="14.85" y="170">3</text>
<text x="0.2" y="242" font-size="21.5px" stroke="#000" stroke-width="0.35">−</text><text x="14.85" y="241">4</text>
<text x="0.2" y="312" font-size="21.5px" stroke="#000" stroke-width="0.35">−</text><text x="14.85" y="311">5</text>
<text x="0.2" y="383" font-size="21.5px" stroke="#000" stroke-width="0.35">−</text><text x="14.85" y="382">6</text>
<text x="0.2" y="453" font-size="21.5px" stroke="#000" stroke-width="0.35">−</text><text x="14.85" y="452">7</text>
<text x="0.2" y="523" font-size="21.5px" stroke="#000" stroke-width="0.35">−</text><text x="14.85" y="522">8</text>
<text x="10.7" y="22">V</text>
<text transform="translate(26.24,21.8) scale(1,1.012)">(</text>
<text transform="translate(33.8,21.8) scale(1.086,1)" font-size="22.7px">z</text>
<text transform="translate(45.65,21.8) scale(1,1.012)">)</text>
<text transform="translate(816.6,43) scale(1.086,1)" font-size="22.7px">z</text>
</g>
<rect x="72.25" y="179.7" width="73.55" height="284.1" rx="6.8" ry="6.8" fill="#fff" stroke="#000" stroke-width="1.55"/>
<text x="109.5" y="205.6" text-anchor="middle" font-family="Liberation Serif, serif" font-style="italic" font-size="23.3px">a</text>
<g font-family="Liberation Sans, sans-serif" font-size="23.3px" fill="#000">
<circle cx="86.6" cy="232.30" r="3.3" fill="#ff0000"/>
<text x="105.8" y="239">0</text>
<circle cx="86.6" cy="274.14" r="3.3" fill="#00ff00"/>
<text x="106.2" y="281">0.</text>
<path d="M133.88 264.00 L132.58 264.00 L128.18 267.90 L128.18 269.80 L131.98 266.90 L131.98 280.20 L133.88 280.20Z" fill="#000"/>
<circle cx="86.6" cy="315.98" r="3.3" fill="#0000ff"/>
<text x="105.8" y="322">0.2</text>
<circle cx="86.6" cy="357.82" r="3.3" fill="#996633"/>
<text x="105.8" y="364">0.3</text>
<circle cx="86.6" cy="399.66" r="3.3" fill="#ff8000"/>
<text x="105.8" y="406">0.4</text>
<circle cx="86.6" cy="441.50" r="3.3" fill="#00ffff"/>
<text x="105.8" y="448">0.5</text>
</g>
</svg>
</body></html>
